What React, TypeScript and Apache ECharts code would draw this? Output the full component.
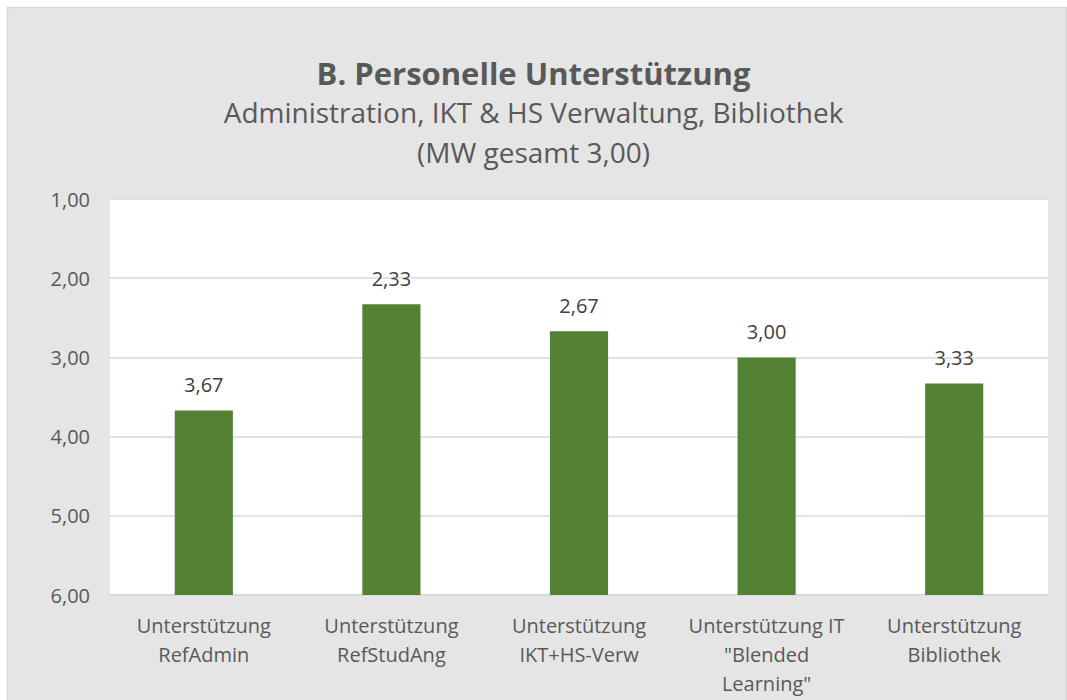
import React, { useEffect, useRef } from "react";
import * as echarts from "echarts";

const categories = [
  "Unterstützung\nRefAdmin",
  "Unterstützung\nRefStudAng",
  "Unterstützung\nIKT+HS-Verw",
  "Unterstützung IT\n\"Blended\nLearning\"",
  "Unterstützung\nBibliothek",
];
const values = [3.67, 2.33, 2.67, 3.0, 3.33];
const scaleMin = 1;
const scaleMax = 6;
const titleText = "B. Personelle Unterstützung";
const subtitleText = "Administration, IKT & HS Verwaltung, Bibliothek\n(MW gesamt 3,00)";

const fmt = (v: number) => v.toFixed(2).replace(".", ",");

export default function App() {
  const ref = useRef<HTMLDivElement>(null);
  useEffect(() => {
    document.body.style.margin = "0";
    const chart = echarts.init(ref.current!, null, { renderer: "svg" });
    const font = "'Open Sans', 'Noto Sans', sans-serif";
    chart.setOption({
      animation: false,
      backgroundColor: "#ffffff",
      graphic: [
        {
          type: "rect",
          z: -10,
          silent: true,
          shape: { x: 7.5, y: 7.5, width: 1059, height: 700 },
          style: { fill: "#e5e5e5", stroke: "#d6d6d6", lineWidth: 1.5 },
        },
      ],
      title: {
        text: titleText,
        subtext: subtitleText,
        left: "center",
        top: 52,
        itemGap: 4,
        textStyle: { fontFamily: font, fontSize: 31, fontWeight: "bold", color: "#595959" },
        subtextStyle: { fontFamily: font, fontSize: 28, color: "#595959", lineHeight: 40 },
      },
      grid: {
        left: 110,
        right: 19,
        top: 199,
        bottom: 105,
        show: true,
        backgroundColor: "#ffffff",
        borderWidth: 0,
      },
      xAxis: {
        type: "category",
        data: categories,
        axisTick: { show: false },
        axisLine: { show: true, lineStyle: { color: "#d9d9d9", width: 2 } },
        axisLabel: {
          fontFamily: font,
          fontSize: 20,
          lineHeight: 29,
          color: "#595959",
          margin: 16,
          interval: 0,
        },
      },
      yAxis: {
        type: "value",
        min: 0,
        max: scaleMax - scaleMin,
        interval: 1,
        axisLine: { show: false },
        axisTick: { show: false },
        splitLine: { lineStyle: { color: "#d9d9d9", width: 1.5 } },
        axisLabel: {
          fontFamily: font,
          fontSize: 20,
          color: "#595959",
          margin: 20,
          formatter: (v: number) => fmt(scaleMax - v),
        },
      },
      series: [
        {
          type: "bar",
          data: values.map((v) => scaleMax - v),
          barWidth: "31%",
          itemStyle: { color: "#548235" },
          label: {
            show: true,
            position: "top",
            distance: 16,
            fontFamily: font,
            fontSize: 20,
            color: "#404040",
            formatter: (p: any) => fmt(values[p.dataIndex]),
          },
        },
      ],
    });
    return () => chart.dispose();
  }, []);
  return <div ref={ref} style={{ width: 1067, height: 700 }} />;
}
